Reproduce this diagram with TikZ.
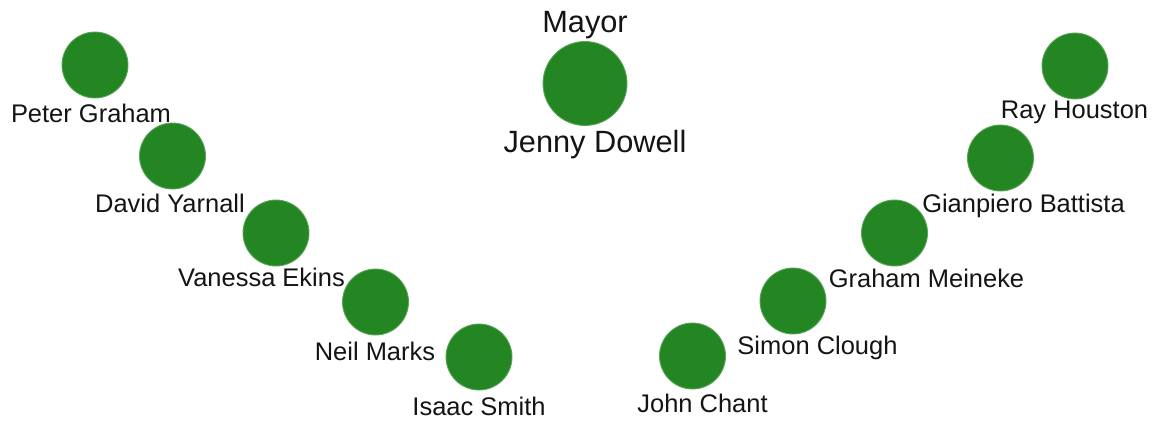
\documentclass[tikz,border=0pt]{standalone}
\usepackage{fontspec}
\setmainfont{Liberation Sans}
\usetikzlibrary{positioning}
\definecolor{councilgreen}{RGB}{35,134,35}
\definecolor{nametext}{RGB}{20,20,20}

\begin{document}
\begin{tikzpicture}[x=0.02cm,y=-0.02cm,
    member/.style={circle,fill=councilgreen,draw=councilgreen!75!white,line width=0.5pt,
      minimum size=1.32cm,inner sep=0pt},
    wholabel/.style={anchor=base,text=nametext,font=\fontsize{14.5}{17}\selectfont},
    bigwho/.style={anchor=base,text=nametext,font=\fontsize{17.5}{21}\selectfont}]
  \useasboundingbox (0,0) rectangle (1156,420);
  % councillors, left arm then right arm
  \foreach \id/\cx/\cy/\lx/\ly/\who in {
    pg/95/65/91/122/Peter Graham,
    dy/172.5/156/170/212/David Yarnall,
    ve/276/233/261.5/286/Vanessa Ekins,
    nm/375.5/302/375/360/Neil Marks,
    is/479/357/479/415/Isaac Smith,
    jc/692.5/356/702.5/412/John Chant,
    sc/793/301/817.5/354/Simon Clough,
    gm/894.5/233/926.5/287/Graham Meineke,
    gb/1000.5/158/1023.5/212/Gianpiero Battista,
    rh/1075/66/1074.5/118/Ray Houston} {
    \node[member] (c\id) at (\cx,\cy) {};
    \node[wholabel] (n\id) at (\lx,\ly) {\who};
  }
  % mayor in the middle
  \node[member,minimum size=1.68cm] (mayor) at (585,83.5) {};
  \node[bigwho] (mayortitle) at (585,32) {Mayor};
  \node[bigwho] (mayorname) at (595,152) {Jenny Dowell};
\end{tikzpicture}
\end{document}
